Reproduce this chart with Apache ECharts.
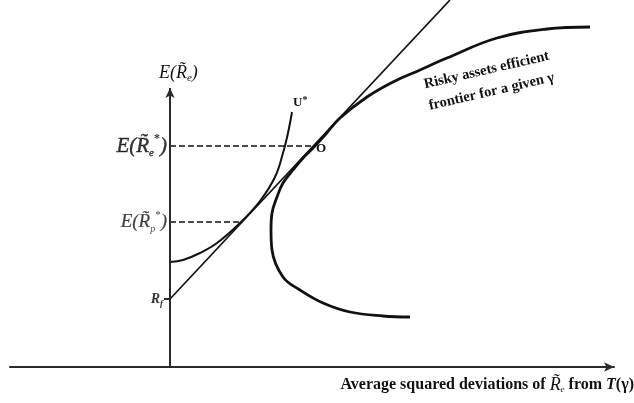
<!DOCTYPE html>
<html>
<head>
<meta charset="utf-8">
<script src="https://cdn.jsdelivr.net/npm/echarts@6/dist/echarts.min.js"></script>
<style>
html,body{margin:0;padding:0;background:#fff;}
#c{width:634px;height:403px;}
</style>
</head>
<body>
<div id="c"></div>
<script>
// ---- data (arbitrary units) ----
const frontier = [[42.0,34.0],[37.7,33.8],[32.7,32.9],[27.7,30.9],[25.0,29.7],[22.3,28.5],[19.7,27.0],[17.0,24.9],[15.5,23.2],[14.3,21.9],[13.3,20.9],[12.3,19.7],[11.3,18.4],[10.7,17.0],[10.2,15.4],[10.1,13.7],[10.2,11.7],[11.3,9.0],[13.0,7.7],[15.3,6.4],[18.0,5.5],[21.3,5.1],[24.0,5.0]];
const tangentLine = [[0,6.8],[28.0,36.7]];
const utilityCurve = [[0,10.5],[1.3,10.7],[3.0,11.4],[4.7,12.4],[7.0,14.4],[9.0,16.6],[10.5,19.0],[11.3,21.4],[11.8,23.4],[12.2,25.5]];
const dashRe = [[0,22.1],[14.2,22.1]];
const dashRp = [[0,14.5],[7.0,14.5]];
const yTickValues = [6.8, 14.5, 22.1];
const yTickLabels = ['{rf|R}{rfs|f}', '{m2|E(R\u0303}{s2|p}{u2|*}{m2|)}', '{m1|E(R\u0303}{s1|e}{u1|*}{m1|)}'];
const yAxisTop = 27.9;

const serif = '"Liberation Serif", "DejaVu Serif", serif';
const ink = '#111';

const chart = echarts.init(document.getElementById('c'));
chart.setOption({
  animation: false,
  backgroundColor: '#fff',
  grid: {left: 10, right: 20, top: 0, bottom: 36, containLabel: false, outerBoundsMode: 'none'},
  xAxis: {
    type: 'value', min: -16, max: 44.4,
    axisLine: {onZero: true, symbol: ['none', 'arrow'], symbolSize: [7, 10], lineStyle: {color: '#2a2a2a', width: 2}},
    axisTick: {show: false}, axisLabel: {show: false}, splitLine: {show: false}
  },
  yAxis: {
    type: 'value', min: 0, max: 36.7,
    axisLine: {show: false}, axisTick: {show: false}, axisLabel: {show: false}, splitLine: {show: false}
  },
  series: [
    {
      name: 'frontier', type: 'line', data: frontier, smooth: 0.4, symbol: 'none',
      lineStyle: {color: ink, width: 2.8}, z: 3,
      markLine: {
        silent: true, symbol: ['none', 'arrow'], symbolSize: [7, 10],
        label: {show: false},
        lineStyle: {color: '#2a2a2a', width: 2, type: 'solid'},
        data: [
          [{coord: [0, 0]}, {coord: [0, yAxisTop]}],
          [{coord: [-0.6, yTickValues[0]], symbol: 'none'}, {coord: [0, yTickValues[0]], symbol: 'none'}]
        ]
      }
    },
    {name: 'tangent', type: 'line', data: tangentLine, symbol: 'none', lineStyle: {color: ink, width: 1.7}, z: 2},
    {name: 'U*', type: 'line', data: utilityCurve, smooth: 0.4, symbol: 'none', lineStyle: {color: ink, width: 2}, z: 2},
    {name: 'dashRe', type: 'line', data: dashRe, symbol: 'none', lineStyle: {color: ink, width: 1.5, type: [6, 3]}},
    {name: 'dashRp', type: 'line', data: dashRp, symbol: 'none', lineStyle: {color: ink, width: 1.5, type: [6, 3]}},
    {
      name: 'yLabels', type: 'scatter', symbolSize: 0, silent: true,
      data: yTickValues.map(function (v, i) { return {value: [0, v], label: {formatter: yTickLabels[i]}}; }),
      label: {
        show: true, position: 'left', distance: 3,
        rich: {
          m1: {fontFamily: serif, fontStyle: 'italic', fontSize: 21, color: '#000', lineHeight: 26, textBorderColor: '#000', textBorderWidth: 0.4},
          s1: {fontFamily: serif, fontStyle: 'italic', fontSize: 11, color: '#000', lineHeight: 11, verticalAlign: 'bottom', textBorderColor: '#000', textBorderWidth: 0.3},
          u1: {fontFamily: serif, fontSize: 12, fontWeight: 'bold', color: '#000', lineHeight: 12, verticalAlign: 'top'},
          m2: {fontFamily: serif, fontStyle: 'italic', fontSize: 19, color: '#111', lineHeight: 24, textBorderColor: '#111', textBorderWidth: 0.2},
          s2: {fontFamily: serif, fontStyle: 'italic', fontSize: 10, color: '#111', lineHeight: 10, verticalAlign: 'bottom'},
          u2: {fontFamily: serif, fontSize: 11, color: '#111', lineHeight: 11, verticalAlign: 'top'},
          rf: {fontFamily: serif, fontStyle: 'italic', fontWeight: 'bold', fontSize: 14, color: '#000', lineHeight: 18},
          rfs: {fontFamily: serif, fontStyle: 'italic', fontWeight: 'bold', fontSize: 9, color: '#000', lineHeight: 9, verticalAlign: 'bottom', padding: [0, 4, 0, 0]}
        }
      }
    }
  ],
  graphic: [
    {type: 'text', left: 159, top: 64, style: {text: '{a|E(R\u0303}{b|e}{a|)}', rich: {
      a: {fontFamily: serif, fontStyle: 'italic', fontSize: 18, fill: ink, lineHeight: 22},
      b: {fontFamily: serif, fontStyle: 'italic', fontSize: 11, fill: ink, lineHeight: 11, verticalAlign: 'bottom'}
    }}},
    {type: 'text', left: 293, top: 95, style: {text: '{a|U}{b|*}', rich: {
      a: {fontFamily: serif, fontWeight: 'bold', fontSize: 13, fill: ink, lineHeight: 16},
      b: {fontFamily: serif, fontWeight: 'bold', fontSize: 10, fill: ink, lineHeight: 10, verticalAlign: 'top'}
    }}},
    {type: 'text', left: 316, top: 142, style: {text: 'O', font: 'bold 13px ' + serif, fill: ink}},
    {type: 'text', x: 489, y: 81, rotation: 13 * Math.PI / 180, style: {
      text: 'Risky assets efficient\nfrontier for a given \u03B3', align: 'center', verticalAlign: 'middle',
      font: 'bold 14.5px ' + serif, lineHeight: 22, fill: ink
    }},
    {type: 'text', right: 0, top: 376, style: {text: '{b|Average squared deviations of }{i|R\u0303}{s|e}{b| from }{bi|T}{b|(\u03B3)}', rich: {
      b: {fontFamily: serif, fontWeight: 'bold', fontSize: 16, fill: ink, lineHeight: 19},
      i: {fontFamily: serif, fontStyle: 'italic', fontSize: 18, fill: ink, lineHeight: 19},
      bi: {fontFamily: serif, fontStyle: 'italic', fontWeight: 'bold', fontSize: 16, fill: ink, lineHeight: 19},
      s: {fontFamily: serif, fontStyle: 'italic', fontSize: 9, fill: ink, lineHeight: 9, verticalAlign: 'bottom'}
    }}}
  ]
});
</script>
</body>
</html>
